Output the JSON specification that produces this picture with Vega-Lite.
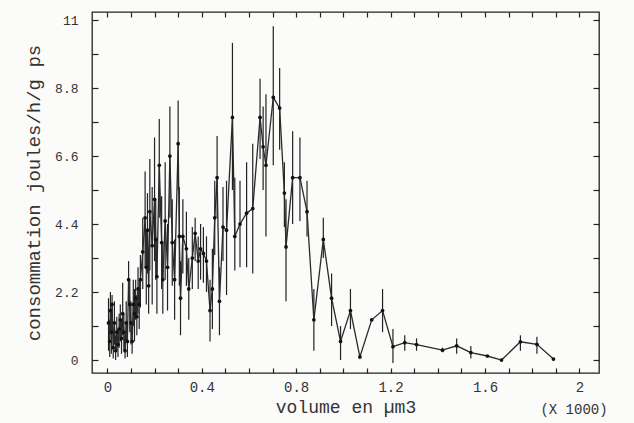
{
  "$schema": "https://vega.github.io/schema/vega-lite/v6.json",
  "width": 507,
  "height": 361,
  "autosize": {"type": "none"},
  "padding": {"left": 92, "top": 12, "right": 35, "bottom": 50},
  "background": "#fbfbfa",
  "config": {
    "view": {"stroke": "#222", "strokeWidth": 1.3},
    "axis": {"domain": false, "grid": false, "tickColor": "#222", "tickWidth": 1.2, "labelFont": "Liberation Mono", "titleFont": "Liberation Mono", "labelColor": "#333", "titleColor": "#333", "titleFontWeight": "normal"}
  },
  "title": {"text": "(X 1000)", "orient": "bottom", "anchor": "end", "font": "Liberation Mono", "fontSize": 14, "fontWeight": "normal", "color": "#333", "offset": -13, "dx": 8},
  "data": {"values": [
    {"x":0.005,"y":1.2,"lo":0.3,"hi":2.0},{"x":0.010,"y":0.6,"lo":0.1,"hi":1.3},{"x":0.013,"y":1.6,"lo":0.9,"hi":2.2},{"x":0.017,"y":0.9,"lo":0.2,"hi":1.6},{"x":0.020,"y":1.8,"lo":1.1,"hi":2.1},{"x":0.025,"y":0.4,"lo":0.05,"hi":1.0},{"x":0.030,"y":1.2,"lo":0.5,"hi":1.9},{"x":0.035,"y":0.3,"lo":0.0,"hi":0.8},{"x":0.040,"y":0.9,"lo":0.3,"hi":1.4},{"x":0.045,"y":0.5,"lo":0.1,"hi":1.0},{"x":0.050,"y":1.0,"lo":0.4,"hi":1.5},{"x":0.055,"y":1.3,"lo":0.6,"hi":1.8},{"x":0.060,"y":0.7,"lo":0.2,"hi":1.3},{"x":0.065,"y":1.5,"lo":0.8,"hi":2.5},{"x":0.070,"y":0.9,"lo":0.3,"hi":1.5},{"x":0.075,"y":0.3,"lo":0.05,"hi":0.8},{"x":0.080,"y":1.2,"lo":0.6,"hi":1.9},{"x":0.085,"y":0.6,"lo":0.1,"hi":1.2},{"x":0.090,"y":2.6,"lo":1.8,"hi":3.2},{"x":0.095,"y":1.8,"lo":0.9,"hi":2.6},{"x":0.100,"y":1.2,"lo":0.5,"hi":1.9},{"x":0.105,"y":0.6,"lo":0.2,"hi":1.2},{"x":0.110,"y":1.8,"lo":1.1,"hi":2.6},{"x":0.115,"y":1.5,"lo":0.6,"hi":2.3},{"x":0.120,"y":2.0,"lo":1.3,"hi":2.6},{"x":0.125,"y":1.4,"lo":0.8,"hi":2.1},{"x":0.130,"y":2.3,"lo":1.5,"hi":3.0},{"x":0.135,"y":1.8,"lo":1.0,"hi":2.6},{"x":0.140,"y":2.6,"lo":1.7,"hi":3.4},{"x":0.150,"y":3.5,"lo":2.3,"hi":4.6},{"x":0.160,"y":4.6,"lo":3.0,"hi":6.1},{"x":0.165,"y":3.0,"lo":1.8,"hi":4.2},{"x":0.170,"y":4.2,"lo":2.8,"hi":5.4},{"x":0.175,"y":2.4,"lo":1.5,"hi":3.4},{"x":0.180,"y":4.8,"lo":2.9,"hi":6.5},{"x":0.190,"y":3.7,"lo":1.8,"hi":5.6},{"x":0.200,"y":5.2,"lo":3.2,"hi":7.2},{"x":0.205,"y":3.9,"lo":2.6,"hi":5.2},{"x":0.210,"y":2.7,"lo":1.5,"hi":3.9},{"x":0.220,"y":6.3,"lo":4.6,"hi":7.8},{"x":0.230,"y":3.8,"lo":2.3,"hi":5.3},{"x":0.235,"y":2.6,"lo":1.5,"hi":3.8},{"x":0.245,"y":4.5,"lo":2.6,"hi":6.4},{"x":0.255,"y":3.0,"lo":1.6,"hi":4.4},{"x":0.265,"y":6.6,"lo":4.6,"hi":8.2},{"x":0.275,"y":3.8,"lo":2.4,"hi":5.2},{"x":0.285,"y":2.6,"lo":1.3,"hi":3.9},{"x":0.300,"y":7.0,"lo":5.5,"hi":8.4},{"x":0.305,"y":4.0,"lo":2.4,"hi":5.6},{"x":0.310,"y":2.0,"lo":0.8,"hi":3.2},{"x":0.320,"y":4.0,"lo":2.8,"hi":5.2},{"x":0.335,"y":3.6,"lo":2.4,"hi":4.8},{"x":0.345,"y":2.3,"lo":1.3,"hi":3.3},{"x":0.360,"y":3.3,"lo":2.3,"hi":4.3},{"x":0.372,"y":4.1,"lo":3.2,"hi":4.6},{"x":0.385,"y":3.2,"lo":2.3,"hi":4.0},{"x":0.395,"y":3.6,"lo":2.6,"hi":4.4},{"x":0.407,"y":3.45,"lo":2.5,"hi":4.3},{"x":0.420,"y":3.2,"lo":2.2,"hi":4.0},{"x":0.435,"y":1.6,"lo":0.6,"hi":2.6},{"x":0.445,"y":2.3,"lo":1.0,"hi":3.6},{"x":0.455,"y":4.6,"lo":3.4,"hi":5.8},{"x":0.465,"y":5.9,"lo":4.6,"hi":7.25},{"x":0.475,"y":1.9,"lo":0.8,"hi":3.0},{"x":0.490,"y":4.3,"lo":3.2,"hi":5.6},{"x":0.505,"y":4.2,"lo":2.1,"hi":5.8},{"x":0.530,"y":7.85,"lo":5.5,"hi":10.26},{"x":0.540,"y":4.0,"lo":2.9,"hi":5.9},{"x":0.562,"y":4.4,"lo":3.0,"hi":5.8},{"x":0.590,"y":4.75,"lo":3.0,"hi":6.4},{"x":0.616,"y":4.9,"lo":2.8,"hi":7.0},{"x":0.647,"y":7.85,"lo":6.5,"hi":9.1},{"x":0.660,"y":6.9,"lo":5.5,"hi":8.2},{"x":0.672,"y":6.3,"lo":4.0,"hi":8.6},{"x":0.703,"y":8.5,"lo":6.3,"hi":10.8},{"x":0.730,"y":8.15,"lo":6.8,"hi":9.45},{"x":0.750,"y":5.4,"lo":4.3,"hi":6.4},{"x":0.757,"y":3.66,"lo":1.9,"hi":5.2},{"x":0.785,"y":5.9,"lo":4.4,"hi":7.4},{"x":0.816,"y":5.9,"lo":4.5,"hi":7.2},{"x":0.846,"y":4.8,"lo":4.0,"hi":5.8},{"x":0.875,"y":1.3,"lo":0.3,"hi":2.3},{"x":0.915,"y":3.9,"lo":3.3,"hi":4.6},{"x":0.950,"y":2.0,"lo":1.1,"hi":2.8},{"x":0.988,"y":0.6,"lo":0.0,"hi":1.1},{"x":1.030,"y":1.6,"lo":1.0,"hi":2.3},{"x":1.070,"y":0.1,"lo":0.1,"hi":0.1},{"x":1.120,"y":1.3,"lo":1.3,"hi":1.3},{"x":1.166,"y":1.6,"lo":0.9,"hi":2.3},{"x":1.210,"y":0.43,"lo":-0.1,"hi":1.0},{"x":1.260,"y":0.56,"lo":0.3,"hi":0.8},{"x":1.310,"y":0.5,"lo":0.3,"hi":0.7},{"x":1.420,"y":0.32,"lo":0.25,"hi":0.4},{"x":1.480,"y":0.46,"lo":0.2,"hi":0.7},{"x":1.540,"y":0.24,"lo":0.05,"hi":0.45},{"x":1.610,"y":0.13,"lo":0.13,"hi":0.13},{"x":1.670,"y":0.0,"lo":0.0,"hi":0.0},{"x":1.750,"y":0.59,"lo":0.3,"hi":0.8},{"x":1.820,"y":0.51,"lo":0.2,"hi":0.75},{"x":1.890,"y":0.03,"lo":0.03,"hi":0.03}
  ]},
  "layer": [
    {
      "mark": {"type": "rule", "color": "#222", "strokeWidth": 1.2},
      "encoding": {
        "x": {"field": "x", "type": "quantitative", "scale": {"domain": [-0.065, 2.083], "nice": false, "zero": false},
          "axis": {"orient": "bottom", "values": [0,0.1,0.2,0.3,0.4,0.5,0.6,0.7,0.8,0.9,1,1.1,1.2,1.3,1.4,1.5,1.6,1.7,1.8,1.9,2],
            "labelExpr": "round(datum.value*10) % 4 == 0 ? format(datum.value, '.1~f') : ''",
            "tickSize": -5, "labelPadding": 12, "labelFontSize": 14, "labelFlush": false,
            "title": "volume en µm3", "titleFontSize": 18, "titlePadding": 4}},
        "y": {"field": "lo", "type": "quantitative", "scale": {"domain": [-0.42, 11.26], "nice": false, "zero": false},
          "axis": {"orient": "left", "values": [0,1.1,2.2,3.3,4.4,5.5,6.6,7.7,8.8,9.9,11],
            "labelExpr": "round(datum.value*10) % 22 == 0 ? format(datum.value, '.1~f') : ''",
            "tickSize": -6, "labelPadding": 20, "labelFontSize": 13, "labelFlush": false,
            "title": "consommation joules/h/g ps", "titleFontSize": 19, "titlePadding": 11}},
        "y2": {"field": "hi"}
      }
    },
    {
      "mark": {"type": "line", "color": "#2a2a2a", "strokeWidth": 1.3},
      "encoding": {
        "x": {"field": "x", "type": "quantitative", "axis": null},
        "y": {"field": "y", "type": "quantitative", "axis": null}
      }
    },
    {
      "mark": {"type": "point", "filled": true, "color": "#111", "size": 14, "opacity": 1},
      "encoding": {
        "x": {"field": "x", "type": "quantitative", "axis": {"orient": "top", "values": [0,0.1,0.2,0.3,0.4,0.5,0.6,0.7,0.8,0.9,1,1.1,1.2,1.3,1.4,1.5,1.6,1.7,1.8,1.9,2], "labels": false, "tickSize": -5, "title": null}},
        "y": {"field": "y", "type": "quantitative", "axis": {"orient": "right", "values": [0,1.1,2.2,3.3,4.4,5.5,6.6,7.7,8.8,9.9,11], "labels": false, "tickSize": -6, "title": null}}
      }
    }
  ],
  "resolve": {"axis": {"x": "independent", "y": "independent"}}
}
